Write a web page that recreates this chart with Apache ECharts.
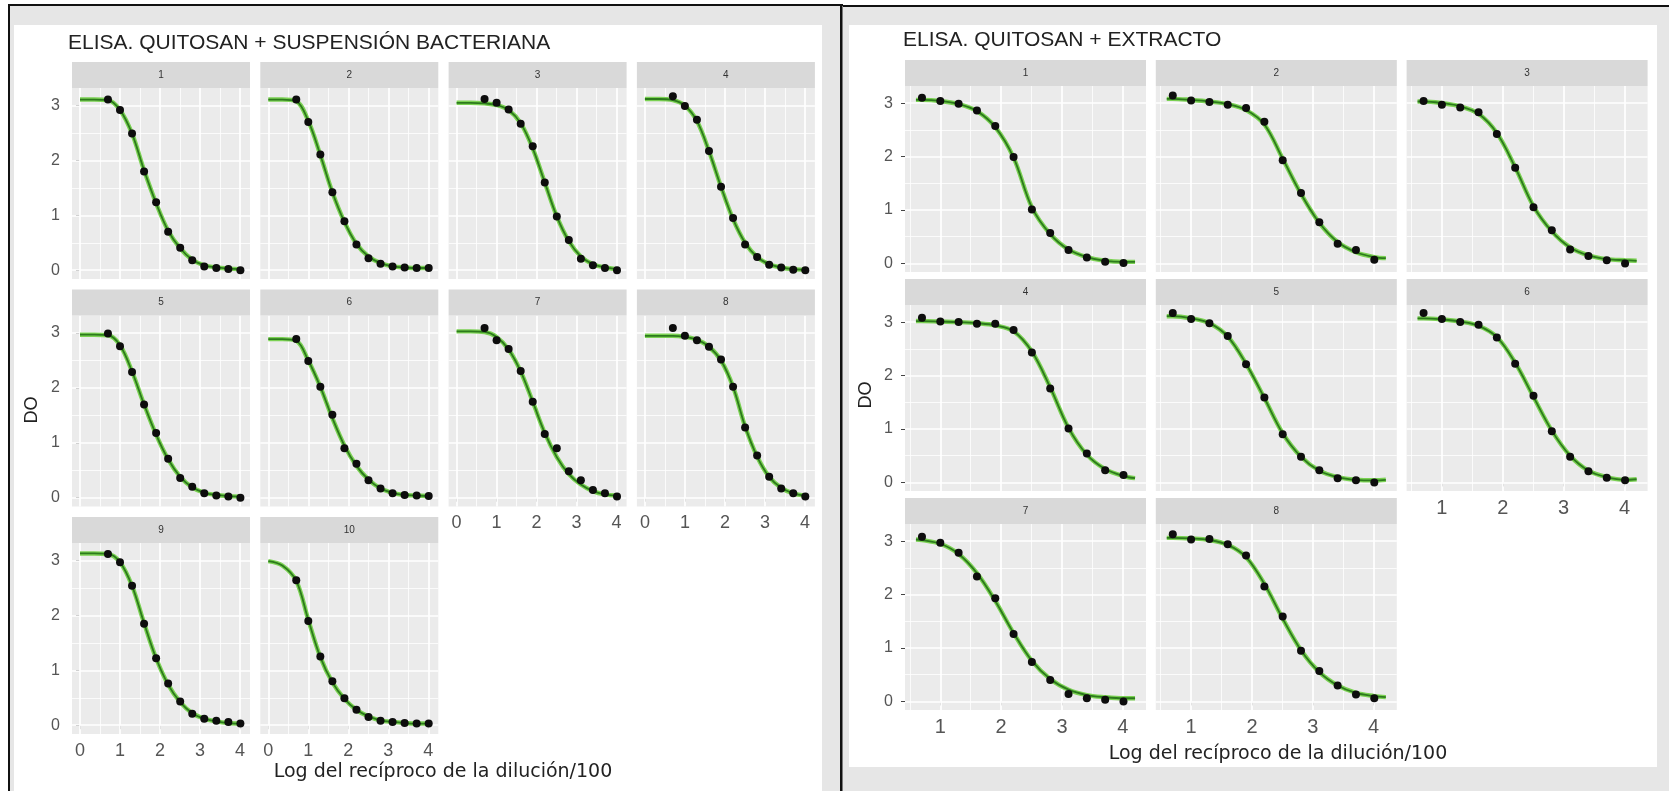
<!DOCTYPE html>
<html>
<head>
<meta charset="utf-8">
<script src="https://cdn.jsdelivr.net/npm/echarts@6/dist/echarts.min.js"></script>
<style>
html, body { margin: 0; padding: 0; background: #fff; }
#c { width: 1669px; height: 791px; }
</style>
</head>
<body>
<div id="c"></div>
<script>
// log10 of reciprocal dilution / 100
const dilX = [0.699, 1.0, 1.301, 1.602, 1.903, 2.204, 2.505, 2.806, 3.107, 3.408, 3.709, 4.01]
const curveXBact = [0, 0.35, 0.699, 1.0, 1.301, 1.602, 1.903, 2.204, 2.505, 2.806, 3.107, 3.408, 3.709, 4.01]
const curveXExtr = [0.6, 0.699, 1.0, 1.301, 1.602, 1.903, 2.204, 2.505, 2.806, 3.107, 3.408, 3.709, 4.01, 4.2]

const bactLabels = ['1', '2', '3', '4', '5', '6', '7', '8', '9', '10']
const extrLabels = ['1', '2', '3', '4', '5', '6', '7', '8']
const xTicksBact = [0, 1, 2, 3, 4]
const xTicksExtr = [1, 2, 3, 4]
const yTicks = [0, 1, 2, 3]

// measured DO (dots), chitosan + bacterial suspension
const bactPoints = [
  [3.11, 2.92, 2.49, 1.80, 1.24, 0.70, 0.41, 0.18, 0.07, 0.04, 0.02, 0.00],
  [3.11, 2.70, 2.11, 1.42, 0.89, 0.47, 0.22, 0.12, 0.07, 0.05, 0.04, 0.04],
  [3.12, 3.05, 2.93, 2.67, 2.26, 1.60, 0.98, 0.55, 0.21, 0.09, 0.04, 0.00],
  [3.17, 2.99, 2.74, 2.17, 1.52, 0.95, 0.47, 0.24, 0.10, 0.05, 0.01, 0.00],
  [2.99, 2.76, 2.29, 1.70, 1.18, 0.71, 0.36, 0.20, 0.08, 0.04, 0.02, 0.00],
  [2.89, 2.49, 2.02, 1.51, 0.90, 0.62, 0.32, 0.17, 0.08, 0.05, 0.04, 0.03],
  [3.09, 2.87, 2.71, 2.31, 1.75, 1.16, 0.90, 0.48, 0.32, 0.14, 0.08, 0.02],
  [3.09, 2.95, 2.87, 2.75, 2.52, 2.02, 1.28, 0.77, 0.38, 0.17, 0.08, 0.02],
  [3.12, 2.97, 2.54, 1.85, 1.22, 0.76, 0.43, 0.21, 0.12, 0.08, 0.06, 0.03],
  [2.64, 1.90, 1.25, 0.80, 0.49, 0.28, 0.15, 0.08, 0.06, 0.04, 0.03, 0.03]
]
// fitted curve, read at curveXBact
const bactCurve = [
  [3.11, 3.11, 3.10, 2.92, 2.49, 1.82, 1.22, 0.72, 0.40, 0.19, 0.09, 0.05, 0.03, 0.02],
  [3.11, 3.11, 3.08, 2.72, 2.10, 1.42, 0.88, 0.48, 0.25, 0.13, 0.07, 0.05, 0.04, 0.04],
  [3.05, 3.05, 3.04, 3.01, 2.92, 2.68, 2.22, 1.60, 0.98, 0.53, 0.25, 0.11, 0.05, 0.02],
  [3.12, 3.12, 3.10, 3.00, 2.72, 2.17, 1.52, 0.93, 0.50, 0.24, 0.11, 0.05, 0.02, 0.01],
  [2.97, 2.97, 2.96, 2.78, 2.30, 1.70, 1.15, 0.70, 0.38, 0.19, 0.09, 0.05, 0.03, 0.02],
  [2.89, 2.89, 2.86, 2.50, 2.02, 1.45, 0.95, 0.58, 0.33, 0.17, 0.09, 0.05, 0.04, 0.03],
  [3.03, 3.03, 3.02, 2.93, 2.70, 2.30, 1.75, 1.18, 0.74, 0.43, 0.24, 0.12, 0.06, 0.04],
  [2.95, 2.95, 2.95, 2.93, 2.88, 2.75, 2.50, 2.02, 1.30, 0.75, 0.38, 0.18, 0.08, 0.04],
  [3.13, 3.13, 3.12, 2.97, 2.54, 1.86, 1.22, 0.74, 0.42, 0.22, 0.12, 0.07, 0.04, 0.03],
  [2.99, 2.91, 2.63, 1.92, 1.24, 0.78, 0.48, 0.28, 0.16, 0.09, 0.06, 0.04, 0.03, 0.03]
]

// chitosan + extract
const extrPoints = [
  [3.10, 3.04, 2.99, 2.86, 2.57, 1.99, 1.01, 0.57, 0.25, 0.11, 0.03, 0.01],
  [3.14, 3.05, 3.02, 2.97, 2.91, 2.65, 1.93, 1.32, 0.77, 0.37, 0.25, 0.07],
  [3.04, 2.97, 2.92, 2.83, 2.42, 1.79, 1.05, 0.62, 0.26, 0.14, 0.06, 0.00],
  [3.08, 3.01, 3.00, 2.97, 2.97, 2.85, 2.43, 1.76, 1.01, 0.54, 0.23, 0.14],
  [3.17, 3.06, 2.98, 2.74, 2.21, 1.59, 0.90, 0.48, 0.23, 0.08, 0.04, 0.00],
  [3.17, 3.06, 3.00, 2.95, 2.71, 2.22, 1.62, 0.96, 0.48, 0.21, 0.09, 0.04],
  [3.08, 2.97, 2.78, 2.34, 1.93, 1.26, 0.74, 0.40, 0.14, 0.06, 0.03, 0.00],
  [3.13, 3.03, 3.04, 2.94, 2.73, 2.15, 1.59, 0.95, 0.57, 0.30, 0.13, 0.06]
]
const extrCurve = [
  [3.06, 3.06, 3.04, 2.98, 2.85, 2.55, 1.98, 1.05, 0.55, 0.26, 0.12, 0.05, 0.03, 0.03],
  [3.08, 3.08, 3.06, 3.03, 2.98, 2.87, 2.60, 1.96, 1.30, 0.76, 0.40, 0.21, 0.12, 0.10],
  [3.03, 3.03, 3.00, 2.94, 2.80, 2.44, 1.80, 1.07, 0.60, 0.30, 0.15, 0.08, 0.06, 0.05],
  [3.02, 3.02, 3.01, 3.00, 2.98, 2.94, 2.83, 2.45, 1.78, 1.02, 0.52, 0.25, 0.12, 0.08],
  [3.11, 3.11, 3.07, 2.98, 2.73, 2.22, 1.58, 0.92, 0.48, 0.22, 0.10, 0.05, 0.04, 0.05],
  [3.07, 3.07, 3.05, 3.01, 2.93, 2.72, 2.24, 1.60, 0.97, 0.50, 0.22, 0.10, 0.05, 0.06],
  [3.03, 3.02, 2.95, 2.76, 2.40, 1.88, 1.28, 0.76, 0.42, 0.22, 0.12, 0.08, 0.06, 0.06],
  [3.06, 3.06, 3.05, 3.02, 2.93, 2.70, 2.20, 1.55, 0.96, 0.55, 0.30, 0.16, 0.10, 0.08]
]

const FONT = '"Liberation Sans", Arial, sans-serif'
const chart = echarts.init(document.getElementById('c'))
const grids = [], xAxes = [], yAxes = [], series = []
const graphics = []

function panel(o) {
  const i = grids.length
  grids.push({ left: o.left, top: o.top, width: o.w, height: o.h, show: true,
    backgroundColor: '#EBEBEB', borderWidth: 0, outerBoundsMode: 'none', containLabel: false })
  xAxes.push({ gridIndex: i, type: 'value', min: o.xMin, max: o.xMax,
    axisLine: { show: false }, splitLine: { show: false },
    axisTick: { show: o.showX, customValues: o.xTicks, length: 4, lineStyle: { color: '#444', width: 1 } },
    axisLabel: { show: o.showX, customValues: o.xTicks, margin: o.xMargin, fontSize: o.xFont,
      color: '#555', fontFamily: FONT } })
  yAxes.push({ gridIndex: i, type: 'value', min: -0.16, max: 3.32,
    axisLine: { show: false }, splitLine: { show: false },
    axisTick: { show: o.showY, customValues: yTicks, length: 4, lineStyle: { color: '#444', width: 1 } },
    axisLabel: { show: o.showY, customValues: yTicks, margin: 12, fontSize: 16,
      color: '#555', fontFamily: FONT } })

  // panel grid lines through the axes
  const gl = []
  o.xMinor.forEach(v => gl.push({ xAxis: v, lineStyle: { color: '#fff', width: 0.8, type: 'solid' } }))
  ;[0.5, 1.5, 2.5].forEach(v => gl.push({ yAxis: v, lineStyle: { color: '#fff', width: 0.8, type: 'solid' } }))
  o.xTicks.forEach(v => gl.push({ xAxis: v, lineStyle: { color: '#fff', width: 1.7, type: 'solid' } }))
  yTicks.forEach(v => gl.push({ yAxis: v, lineStyle: { color: '#fff', width: 1.7, type: 'solid' } }))
  series.push({ type: 'line', xAxisIndex: i, yAxisIndex: i, data: [], silent: true,
    markLine: { silent: true, symbol: ['none', 'none'], label: { show: false },
      emphasis: { disabled: true }, animation: false, z: 1,
      lineStyle: { type: 'solid' }, data: gl } })

  const curve = o.cx.map((x, k) => [x, o.cy[k]])
  series.push({ type: 'line', xAxisIndex: i, yAxisIndex: i, data: curve, smooth: 0.35,
    showSymbol: false, silent: true, lineStyle: { color: '#7BD153', width: 4.4 }, z: 3 })
  series.push({ type: 'line', xAxisIndex: i, yAxisIndex: i, data: curve, smooth: 0.35,
    showSymbol: false, silent: true, lineStyle: { color: '#2C7A1C', width: 1.8 }, z: 4 })
  series.push({ type: 'scatter', xAxisIndex: i, yAxisIndex: i,
    data: dilX.map((x, k) => [x, o.pts[k]]), symbolSize: 8, silent: true,
    itemStyle: { color: '#0d0d0d', opacity: 1 }, z: 5 })

  graphics.push({ type: 'rect', shape: { x: o.left, y: o.top - 26, width: o.w, height: 26 },
    style: { fill: '#D9D9D9' }, z: 5 })
  graphics.push({ type: 'text', x: o.left + o.w / 2, y: o.top - 13, z: 6,
    style: { text: o.label, align: 'center', verticalAlign: 'middle', fontSize: 10,
      fill: '#333', fontFamily: FONT } })
}

// box frames and backgrounds
graphics.push({ type: 'rect', shape: { x: 9, y: 6, width: 832, height: 785 }, style: { fill: '#E6E6E6' }, z: -10 })
graphics.push({ type: 'rect', shape: { x: 14, y: 25, width: 808, height: 766 }, style: { fill: '#fff' }, z: -9 })
graphics.push({ type: 'rect', shape: { x: 842, y: 7, width: 827, height: 784 }, style: { fill: '#E6E6E6' }, z: -10 })
graphics.push({ type: 'rect', shape: { x: 849, y: 25, width: 808, height: 742 }, style: { fill: '#fff' }, z: -9 })
graphics.push({ type: 'rect', shape: { x: 8, y: 4, width: 835, height: 2 }, style: { fill: '#111' }, z: -8 })
graphics.push({ type: 'rect', shape: { x: 843, y: 5, width: 826, height: 2 }, style: { fill: '#111' }, z: -8 })
graphics.push({ type: 'rect', shape: { x: 8, y: 4, width: 2, height: 787 }, style: { fill: '#111' }, z: -8 })
graphics.push({ type: 'rect', shape: { x: 840, y: 4, width: 2.5, height: 787 }, style: { fill: '#111' }, z: -8 })

bactLabels.forEach((lab, k) => {
  const col = k % 4, row = Math.floor(k / 4)
  panel({ left: 72 + col * 188.3, top: 88 + row * 227.5, w: 178, h: 191,
    xMin: -0.2, xMax: 4.25, xTicks: xTicksBact, xMinor: [0.5, 1.5, 2.5, 3.5],
    showX: k >= 6, showY: col === 0, xFont: 18, xMargin: 8,
    label: lab, pts: bactPoints[k], cx: curveXBact, cy: bactCurve[k] })
})
extrLabels.forEach((lab, k) => {
  const col = k % 3, row = Math.floor(k / 3)
  panel({ left: 905 + col * 250.8, top: 86 + row * 219, w: 241, h: 186,
    xMin: 0.42, xMax: 4.38, xTicks: xTicksExtr, xMinor: [0.5, 1.5, 2.5, 3.5],
    showX: k >= 5, showY: col === 0, xFont: 20, xMargin: 7,
    label: lab, pts: extrPoints[k], cx: curveXExtr, cy: extrCurve[k] })
})

// titles
const txt = (t, x, y, size, extra) => Object.assign({ type: 'text', x: x, y: y, z: 6,
  style: { text: t, fontSize: size, fill: '#222', fontFamily: FONT, align: 'left', verticalAlign: 'middle' } }, extra || {})
graphics.push(txt('ELISA. QUITOSAN + SUSPENSIÓN BACTERIANA', 68, 43, 21))
graphics.push(txt('ELISA. QUITOSAN + EXTRACTO', 903, 40, 21))
const xt1 = txt('Log del recíproco de la dilución/100', 443, 772, 19)
xt1.style.align = 'center'; xt1.style.fontFamily = '"DejaVu Sans", sans-serif'
const xt2 = txt('Log del recíproco de la dilución/100', 1278, 754, 19)
xt2.style.align = 'center'; xt2.style.fontFamily = '"DejaVu Sans", sans-serif'
graphics.push(xt1, xt2)
const do1 = txt('DO', 32, 410, 18, { rotation: Math.PI / 2 })
do1.style.align = 'center'
const do2 = txt('DO', 866, 395, 18, { rotation: Math.PI / 2 })
do2.style.align = 'center'
graphics.push(do1, do2)

const option = {
  animation: false,
  textStyle: { fontFamily: FONT },
  grid: grids,
  xAxis: xAxes,
  yAxis: yAxes,
  series: series,
  graphic: { elements: graphics }
}
chart.setOption(option)
</script>
</body>
</html>
